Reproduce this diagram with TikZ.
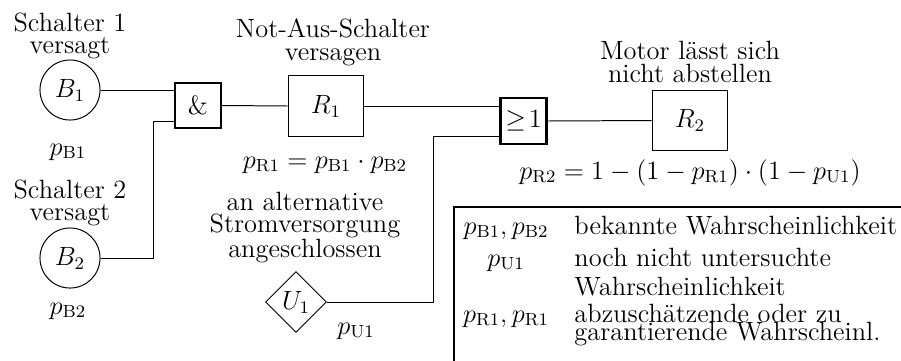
\documentclass[tikz,border=0pt]{standalone}
\usetikzlibrary{shapes.geometric}
\tikzset{
  ev/.style={circle,draw,line width=0.45pt,minimum size=27.3pt,inner sep=0pt,font=\fontsize{12}{14}\selectfont},
  gate/.style={draw,line width=0.95pt,minimum width=20.9pt,minimum height=20.5pt,inner sep=0pt,font=\fontsize{12}{14}\selectfont},
  res/.style={draw,line width=0.45pt,minimum width=34.5pt,minimum height=27.3pt,inner sep=0pt,font=\fontsize{12}{14}\selectfont},
  cond/.style={diamond,draw,line width=0.45pt,minimum width=27.7pt,minimum height=27.7pt,inner sep=0pt,aspect=1,font=\fontsize{12}{14}\selectfont},
  lbl/.style={align=center,font=\fontsize{12}{10.3}\selectfont,inner sep=0pt},
  mlbl/.style={font=\fontsize{12}{14}\selectfont,inner sep=0pt,anchor=base},
  leg/.style={font=\fontsize{12}{14}\selectfont,inner sep=0pt,anchor=base},
  legtxt/.style={font=\fontsize{12}{14}\selectfont,inner sep=0pt,anchor=base west},
  wire/.style={line width=0.45pt},
  legbox/.style={draw,line width=0.7pt}
}
\begin{document}
\begin{tikzpicture}[x=0.4545pt,y=-0.4545pt]
\clip (0,0) rectangle (901,360);
% events
\node[ev] (B1) at (70,90) {$B_1$};
\node[ev] (B2) at (70,258) {$B_2$};
\node[gate] (and) at (198,105.5) {\&};
\node[res] (R1) at (326,106) {$R_1$};
\node[gate] (or) at (523.5,121) {$\geq\!1$};
\node[res] (R2) at (690,120.5) {$R_2$};
\node[cond] (U1) at (296,302) {$U_1$};
% labels
\node[lbl] (lB1) at (70,36) {Schalter 1\\versagt};
\node[lbl] (lB2) at (70,203) {Schalter 2\\versagt};
\node[lbl] (lR1) at (333,42) {Not-Aus-Schalter\\versagen};
\node[lbl] (lR2) at (690,62) {Motor lässt sich\\nicht abstellen};
\node[lbl,font=\fontsize{12}{9.6}\selectfont] (lU1) at (305,228) {an alternative\\Stromversorgung\\angeschlossen};
\node[mlbl] (pB1) at (68,155) {$p_{\mathrm{B1}}$};
\node[mlbl] (pB2) at (68,314) {$p_{\mathrm{B2}}$};
\node[mlbl] (pR1) at (325,168) {$p_{\mathrm{R1}}=p_{\mathrm{B1}}\cdot p_{\mathrm{B2}}$};
\node[mlbl] (pR2) at (690,179) {$p_{\mathrm{R2}}=1-(1-p_{\mathrm{R1}})\cdot(1-p_{\mathrm{U1}})$};
\node[mlbl] (pU1) at (356,334) {$p_{\mathrm{U1}}$};
% wires
\coordinate (j1) at (153,121);
\coordinate (j2) at (433,136);
\draw[wire] (B1.east) -- (B1.east -| and.west);
\draw[wire] (B2.east) -| (j1) -- (j1 -| and.west);
\draw[wire] (and.east) -- (R1.west);
\draw[wire] (R1.east) -- (R1.east -| or.west);
\draw[wire] (U1.east) -| (j2) -- (j2 -| or.west);
\draw[wire] (or.east) -- (R2.west);
% legend
\draw[legbox] (454,207) rectangle (960,420);
\node[leg] (k1) at (506,234) {$p_{\mathrm{B1}}, p_{\mathrm{B2}}$};
\node[leg] (k2) at (506,266) {$p_{\mathrm{U1}}$};
\node[leg] (k3) at (506,322) {$p_{\mathrm{R1}}, p_{\mathrm{R1}}$};
\node[legtxt] (t1) at (574,234) {bekannte Wahrscheinlichkeit};
\node[legtxt] (t2a) at (574,266) {noch nicht untersuchte};
\node[legtxt] (t2b) at (574,295) {Wahrscheinlichkeit};
\node[legtxt] (t3a) at (574,322) {abzuschätzende oder zu};
\node[legtxt] (t3b) at (574,340) {garantierende Wahrscheinl.};
\end{tikzpicture}
\end{document}
